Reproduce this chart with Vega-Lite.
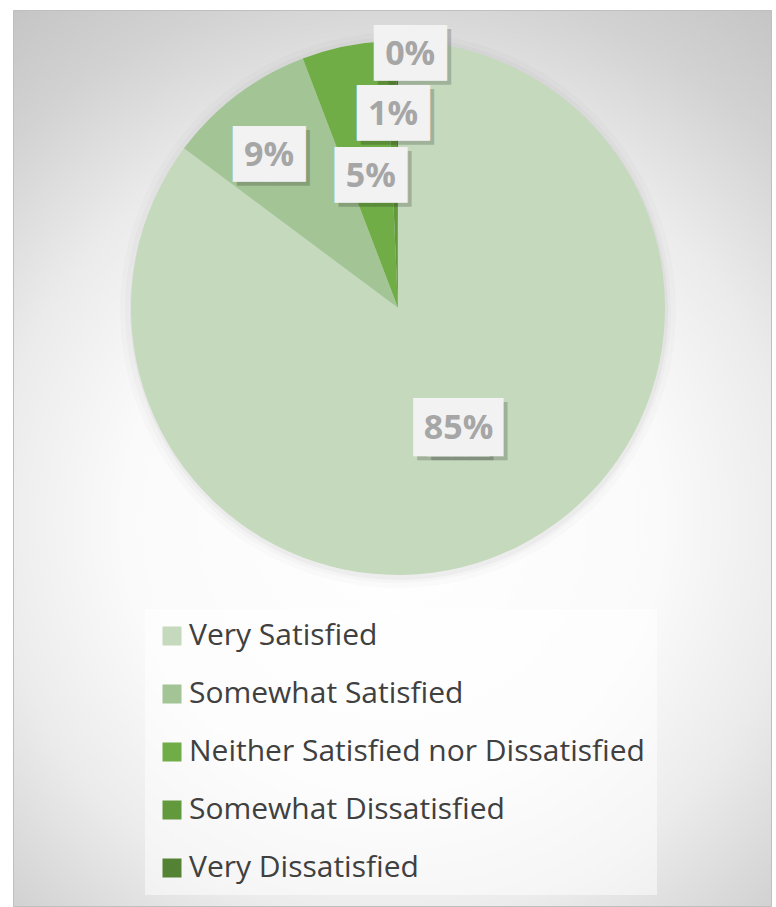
{
  "$schema": "https://vega.github.io/schema/vega-lite/v6.json",
  "autosize": {"type": "fit", "contains": "padding"},
  "width": 776,
  "height": 907,
  "padding": {"left": 13, "top": 10, "right": 5, "bottom": 1},
  "background": "#ffffff",
  "view": {
    "fill": {
      "gradient": "radial",
      "x1": 0.5, "y1": 0.57, "r1": 0,
      "x2": 0.5, "y2": 0.57, "r2": 0.75,
      "stops": [
        {"offset": 0, "color": "#ffffff"},
        {"offset": 0.4, "color": "#fafafa"},
        {"offset": 0.6, "color": "#ebebeb"},
        {"offset": 0.8, "color": "#d2d2d2"},
        {"offset": 1, "color": "#c0c0c0"}
      ]
    },
    "stroke": "#bfbfbf",
    "strokeWidth": 1
  },
  "data": {
    "values": [
      {"category": "Very Satisfied", "share": 0.852, "rank": 1},
      {"category": "Somewhat Satisfied", "share": 0.090, "rank": 2},
      {"category": "Neither Satisfied nor Dissatisfied", "share": 0.051, "rank": 3},
      {"category": "Somewhat Dissatisfied", "share": 0.006, "rank": 4},
      {"category": "Very Dissatisfied", "share": 0.001, "rank": 5}
    ]
  },
  "encoding": {
    "theta": {"field": "share", "type": "quantitative", "stack": true},
    "order": {"field": "rank", "type": "quantitative"}
  },
  "layer": [
    {"mark": {"type": "arc", "x": 385, "y": 300, "outerRadius": 278, "fill": "#000000", "opacity": 0.015}, "encoding": {"detail": {"field": "category"}}},
    {"mark": {"type": "arc", "x": 385, "y": 300, "outerRadius": 273, "fill": "#000000", "opacity": 0.02}, "encoding": {"detail": {"field": "category"}}},
    {"mark": {"type": "arc", "x": 386, "y": 301, "outerRadius": 269, "fill": "#000000", "opacity": 0.03}, "encoding": {"detail": {"field": "category"}}},
    {
      "mark": {"type": "arc", "x": 385, "y": 298, "outerRadius": 267},
      "encoding": {
        "color": {
          "field": "category",
          "type": "nominal",
          "scale": {
            "domain": ["Very Satisfied", "Somewhat Satisfied", "Neither Satisfied nor Dissatisfied", "Somewhat Dissatisfied", "Very Dissatisfied"],
            "range": ["#c5d9bd", "#a3c595", "#70ad47", "#62993c", "#548235"]
          },
          "legend": {
            "title": null,
            "orient": "none",
            "direction": "vertical",
            "legendX": 132,
            "legendY": 599,
            "symbolType": "square",
            "symbolSize": 361,
            "symbolStrokeWidth": 0,
            "labelFont": "Open Sans",
            "labelFontSize": 30,
            "labelColor": "#404040",
            "labelOffset": 2,
            "labelLimit": 700,
            "rowPadding": 28,
            "padding": 12,
            "fillColor": "rgba(255,255,255,0.5)"
          }
        }
      }
    },
    {"mark": {"type": "text", "x": 382, "y": 302, "radius": 135, "font": "DejaVu Sans", "fontSize": 49, "baseline": "middle", "align": "center", "fill": "#000000", "opacity": 0.18},
     "encoding": {"detail": {"field": "category"}, "text": {"condition": {"test": "datum.rank == 1", "value": "██"}, "value": ""}}},
    {"mark": {"type": "text", "x": 396, "y": 302, "radius": 135, "font": "DejaVu Sans", "fontSize": 49, "baseline": "middle", "align": "center", "fill": "#000000", "opacity": 0.18},
     "encoding": {"detail": {"field": "category"}, "text": {"condition": {"test": "datum.rank == 1", "value": "██"}, "value": ""}}},
    {"mark": {"type": "text", "x": 378, "y": 298, "radius": 135, "font": "DejaVu Sans", "fontSize": 49, "baseline": "middle", "align": "center", "fill": "#f2f2f2"},
     "encoding": {"detail": {"field": "category"}, "text": {"condition": {"test": "datum.rank == 1", "value": "██"}, "value": ""}}},
    {"mark": {"type": "text", "x": 392, "y": 298, "radius": 135, "font": "DejaVu Sans", "fontSize": 49, "baseline": "middle", "align": "center", "fill": "#f2f2f2"},
     "encoding": {"detail": {"field": "category"}, "text": {"condition": {"test": "datum.rank == 1", "value": "██"}, "value": ""}}},
    {"mark": {"type": "text", "x": 385, "y": 298, "radius": 135, "font": "Open Sans", "fontWeight": "bold", "fontSize": 34, "baseline": "middle", "align": "center", "fill": "#a6a6a6"},
     "encoding": {"detail": {"field": "category"}, "text": {"condition": {"test": "datum.rank == 1", "field": "share", "type": "quantitative", "format": ".0%"}, "value": ""}}},

    {"mark": {"type": "text", "x": 380, "y": 309, "radius": 199, "font": "DejaVu Sans", "fontSize": 47, "baseline": "middle", "align": "center", "fill": "#000000", "opacity": 0.18},
     "encoding": {"detail": {"field": "category"}, "text": {"condition": {"test": "datum.rank == 2", "value": "██"}, "value": ""}}},
    {"mark": {"type": "text", "x": 376, "y": 305, "radius": 199, "font": "DejaVu Sans", "fontSize": 47, "baseline": "middle", "align": "center", "fill": "#f2f2f2"},
     "encoding": {"detail": {"field": "category"}, "text": {"condition": {"test": "datum.rank == 2", "value": "██"}, "value": ""}}},
    {"mark": {"type": "text", "x": 376, "y": 305, "radius": 199, "font": "Open Sans", "fontWeight": "bold", "fontSize": 34, "baseline": "middle", "align": "center", "fill": "#a6a6a6"},
     "encoding": {"detail": {"field": "category"}, "text": {"condition": {"test": "datum.rank == 2", "field": "share", "type": "quantitative", "format": ".0%"}, "value": ""}}},

    {"mark": {"type": "text", "x": 389, "y": 302, "radius": 134, "font": "DejaVu Sans", "fontSize": 47, "baseline": "middle", "align": "center", "fill": "#000000", "opacity": 0.18},
     "encoding": {"detail": {"field": "category"}, "text": {"condition": {"test": "datum.rank == 3", "value": "██"}, "value": ""}}},
    {"mark": {"type": "text", "x": 385, "y": 298, "radius": 134, "font": "DejaVu Sans", "fontSize": 47, "baseline": "middle", "align": "center", "fill": "#f2f2f2"},
     "encoding": {"detail": {"field": "category"}, "text": {"condition": {"test": "datum.rank == 3", "value": "██"}, "value": ""}}},
    {"mark": {"type": "text", "x": 385, "y": 298, "radius": 134, "font": "Open Sans", "fontWeight": "bold", "fontSize": 34, "baseline": "middle", "align": "center", "fill": "#a6a6a6"},
     "encoding": {"detail": {"field": "category"}, "text": {"condition": {"test": "datum.rank == 3", "field": "share", "type": "quantitative", "format": ".0%"}, "value": ""}}},

    {"mark": {"type": "text", "x": 389, "y": 302, "radius": 193, "font": "DejaVu Sans", "fontSize": 47, "baseline": "middle", "align": "center", "fill": "#000000", "opacity": 0.18},
     "encoding": {"detail": {"field": "category"}, "text": {"condition": {"test": "datum.rank == 4", "value": "██"}, "value": ""}}},
    {"mark": {"type": "text", "x": 385, "y": 298, "radius": 193, "font": "DejaVu Sans", "fontSize": 47, "baseline": "middle", "align": "center", "fill": "#f2f2f2"},
     "encoding": {"detail": {"field": "category"}, "text": {"condition": {"test": "datum.rank == 4", "value": "██"}, "value": ""}}},
    {"mark": {"type": "text", "x": 385, "y": 298, "radius": 193, "font": "Open Sans", "fontWeight": "bold", "fontSize": 34, "baseline": "middle", "align": "center", "fill": "#a6a6a6"},
     "encoding": {"detail": {"field": "category"}, "text": {"condition": {"test": "datum.rank == 4", "field": "share", "type": "quantitative", "format": ".0%"}, "value": ""}}},

    {"mark": {"type": "text", "x": 402, "y": 302, "radius": 253, "font": "DejaVu Sans", "fontSize": 47, "baseline": "middle", "align": "center", "fill": "#000000", "opacity": 0.18},
     "encoding": {"detail": {"field": "category"}, "text": {"condition": {"test": "datum.rank == 5", "value": "██"}, "value": ""}}},
    {"mark": {"type": "text", "x": 398, "y": 298, "radius": 253, "font": "DejaVu Sans", "fontSize": 47, "baseline": "middle", "align": "center", "fill": "#f2f2f2"},
     "encoding": {"detail": {"field": "category"}, "text": {"condition": {"test": "datum.rank == 5", "value": "██"}, "value": ""}}},
    {"mark": {"type": "text", "x": 398, "y": 298, "radius": 253, "font": "Open Sans", "fontWeight": "bold", "fontSize": 34, "baseline": "middle", "align": "center", "fill": "#a6a6a6"},
     "encoding": {"detail": {"field": "category"}, "text": {"condition": {"test": "datum.rank == 5", "field": "share", "type": "quantitative", "format": ".0%"}, "value": ""}}}
  ]
}
